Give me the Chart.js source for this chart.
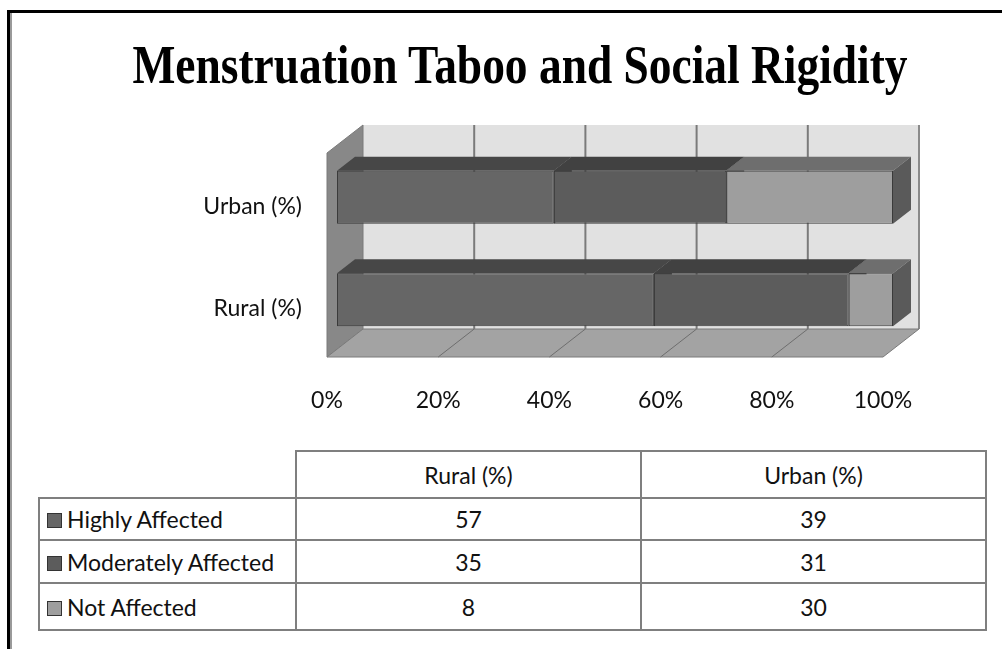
<!DOCTYPE html>
<html>
<head>
<meta charset="utf-8">
<script src="https://cdn.jsdelivr.net/npm/chart.js@4.4.1/dist/chart.umd.min.js"></script>
<style>
  html, body { margin: 0; padding: 0; background: #fff; }
  body { width: 1002px; height: 649px; position: relative; overflow: hidden; font-family: Lato, "Open Sans", sans-serif; }
  #frameTop { position: absolute; left: 7px; top: 10px; width: 995px; height: 3px; background: #000; }
  #frameLeft { position: absolute; left: 7px; top: 10px; width: 3px; height: 639px; background: #000; }
  #frameLeft2 { position: absolute; left: 10px; top: 13px; width: 2px; height: 636px; background: #9a9a9a; }
  #title { position: absolute; left: 0; top: 33px; width: 1040px; text-align: center;
    font-family: "Liberation Serif", "Times New Roman", serif; font-weight: bold; font-size: 55px; color: #000;
    white-space: nowrap; transform-origin: 520px 0; }
  #chartBox { position: absolute; left: 0; top: 0; width: 1002px; height: 440px; }
  table { position: absolute; left: 38px; top: 450px; border-collapse: collapse; font-size: 23px; color: #111; }
  td { border: 2px solid #7f7f7f; text-align: center; padding: 0; }
  td.blank { border-top: none; border-left: none; }
  td.name { text-align: left; padding-left: 7px; }
  .key { display: inline-block; width: 13px; height: 13px; border: 1px solid #333; margin-right: 5px; vertical-align: 0px; }
</style>
</head>
<body>
<div id="frameTop"></div>
<div id="frameLeft"></div>
<div id="frameLeft2"></div>
<div id="chartBox"><canvas id="myChart" width="1002" height="440"></canvas></div>
<div id="title">Menstruation Taboo and Social Rigidity</div>
<table id="dataTable"></table>
<script>
const chartTitle = "Menstruation Taboo and Social Rigidity";
const categories = ["Rural (%)", "Urban (%)"];
const seriesNames = ["Highly Affected", "Moderately Affected", "Not Affected"];
const highlyAffected = [57, 39];
const moderatelyAffected = [35, 31];
const notAffected = [8, 30];
const tickLabels = ["0%", "20%", "40%", "60%", "80%", "100%"];

const frontColors = ["#666666", "#5c5c5c", "#9e9e9e"];
const topColors = ["#474747", "#414141", "#6e6e6e"];
const sideColors = ["#4a4a4a", "#444444", "#5a5a5a"];

// squeeze the title the way the original is drawn
const title = document.getElementById("title");
title.textContent = chartTitle;
const mctx = document.createElement("canvas").getContext("2d");
mctx.font = "bold 55px 'Liberation Serif'";
const tw = mctx.measureText(chartTitle).width;
title.style.transform = "scaleX(" + (776 / tw) + ")";

// 3D walls, floor and bar tops/sides
const BAR_DX = 18, BAR_DY = -14;   // depth of a bar
const WALL_DX = 36, WALL_DY = -28; // depth of the walls
const FRONT_OFF = -10;             // wall front plane vs. bar front plane

const box3d = {
  id: "box3d",
  beforeDatasetsDraw(chart) {
    const ctx = chart.ctx;
    const xs = chart.scales.x;
    const area = chart.chartArea;
    const fx = v => xs.getPixelForValue(v) + FRONT_OFF;
    const fTop = area.top + 7, fBot = area.bottom + 6;
    const bTop = fTop + WALL_DY, bBot = fBot + WALL_DY;
    ctx.save();
    // back wall
    ctx.fillStyle = "#e1e1e1";
    ctx.fillRect(fx(0) + WALL_DX, bTop, fx(100) - fx(0), bBot - bTop);
    ctx.strokeStyle = "#7a7a7a";
    ctx.lineWidth = 2;
    [20, 40, 60, 80].forEach(v => {
      ctx.beginPath();
      ctx.moveTo(fx(v) + WALL_DX, bTop);
      ctx.lineTo(fx(v) + WALL_DX, bBot);
      ctx.stroke();
    });
    ctx.strokeStyle = "#8a8a8a";
    ctx.beginPath();
    ctx.moveTo(fx(100) + WALL_DX, bTop);
    ctx.lineTo(fx(100) + WALL_DX, bBot);
    ctx.stroke();
    // left side wall
    ctx.fillStyle = "#888888";
    ctx.beginPath();
    ctx.moveTo(fx(0), fTop);
    ctx.lineTo(fx(0) + WALL_DX, bTop);
    ctx.lineTo(fx(0) + WALL_DX, bBot);
    ctx.lineTo(fx(0), fBot);
    ctx.closePath();
    ctx.fill();
    ctx.strokeStyle = "#7a7a7a";
    ctx.lineWidth = 1;
    ctx.stroke();
    // floor
    ctx.fillStyle = "#a3a3a3";
    ctx.beginPath();
    ctx.moveTo(fx(0), fBot);
    ctx.lineTo(fx(100), fBot);
    ctx.lineTo(fx(100) + WALL_DX, bBot);
    ctx.lineTo(fx(0) + WALL_DX, bBot);
    ctx.closePath();
    ctx.fill();
    ctx.strokeStyle = "#7a7a7a";
    ctx.stroke();
    ctx.strokeStyle = "#6e6e6e";
    [20, 40, 60, 80].forEach(v => {
      ctx.beginPath();
      ctx.moveTo(fx(v), fBot);
      ctx.lineTo(fx(v) + WALL_DX, bBot);
      ctx.stroke();
    });
    // bar tops and sides
    chart.data.datasets.forEach((ds, i) => {
      const meta = chart.getDatasetMeta(i);
      meta.data.forEach(bar => {
        const l = Math.min(bar.base, bar.x), r = Math.max(bar.base, bar.x);
        const t = bar.y - bar.height / 2, b = bar.y + bar.height / 2;
        ctx.fillStyle = topColors[i];
        ctx.beginPath();
        ctx.moveTo(l, t);
        ctx.lineTo(r, t);
        ctx.lineTo(r + BAR_DX, t + BAR_DY);
        ctx.lineTo(l + BAR_DX, t + BAR_DY);
        ctx.closePath();
        ctx.fill();
        ctx.fillStyle = sideColors[i];
        ctx.beginPath();
        ctx.moveTo(r, t);
        ctx.lineTo(r + BAR_DX, t + BAR_DY);
        ctx.lineTo(r + BAR_DX, b + BAR_DY);
        ctx.lineTo(r, b);
        ctx.closePath();
        ctx.fill();
      });
    });
    ctx.restore();
  }
};

const seriesData = [highlyAffected, moderatelyAffected, notAffected];
const datasets = seriesNames.map((name, i) => ({
  label: name,
  data: seriesData[i],
  backgroundColor: frontColors[i],
  borderColor: "#3a3a3a",
  borderWidth: 1,
  borderSkipped: false,
  barPercentage: 0.72,
  categoryPercentage: 0.72,
}));

new Chart(document.getElementById("myChart").getContext("2d"), {
  type: "bar",
  data: { labels: categories, datasets: datasets },
  options: {
    responsive: false,
    animation: false,
    indexAxis: "y",
    layout: { padding: { top: 146, right: 109, bottom: 0, left: 0 } },
    plugins: { legend: { display: false }, tooltip: { enabled: false } },
    scales: {
      x: {
        stacked: true,
        min: 0,
        max: 100,
        grid: { display: false, drawTicks: false },
        border: { display: false },
        ticks: {
          stepSize: 20,
          padding: 36,
          labelOffset: FRONT_OFF,
          color: "#111",
          font: { family: "Lato", size: 23 },
          callback: (v, idx) => tickLabels[idx],
        },
        afterFit: s => { s.height = 89; },
      },
      y: {
        stacked: true,
        reverse: true,
        grid: { display: false, drawTicks: false },
        border: { display: false },
        ticks: { padding: 35, labelOffset: 9, color: "#111", font: { family: "Lato", size: 23 } },
        afterFit: s => { s.width = 337; },
      },
    },
  },
  plugins: [box3d],
});

// data table under the chart
const table = document.getElementById("dataTable");
const colW = [256, 343, 343];
const rowH = [47, 42, 43, 47];
let html = "<tr style='height:" + rowH[0] + "px'><td class='blank' style='width:" + colW[0] + "px'></td>";
categories.forEach((c, j) => { html += "<td style='width:" + colW[j + 1] + "px'>" + c + "</td>"; });
html += "</tr>";
seriesNames.forEach((name, i) => {
  html += "<tr style='height:" + rowH[i + 1] + "px'><td class='name'><span class='key' style='background:" +
    frontColors[i] + "'></span>" + name + "</td>";
  seriesData[i].forEach(v => { html += "<td>" + v + "</td>"; });
  html += "</tr>";
});
table.innerHTML = html;
</script>
</body>
</html>
